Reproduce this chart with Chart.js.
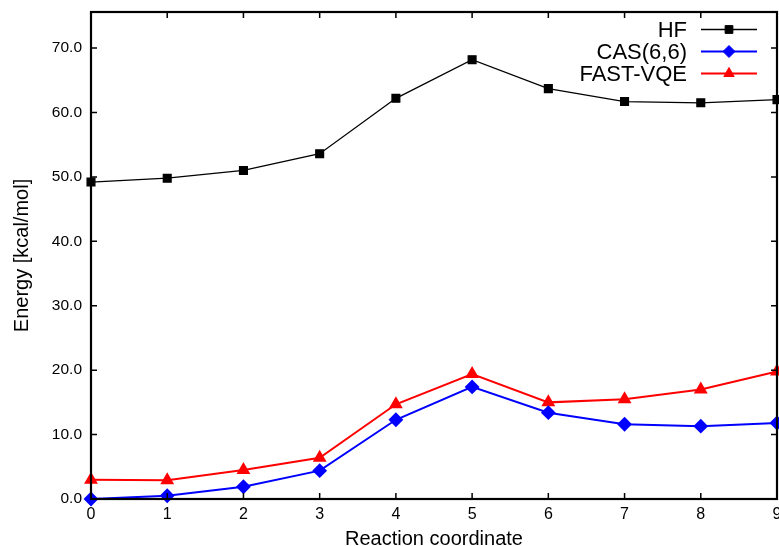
<!DOCTYPE html>
<html>
<head>
<meta charset="utf-8">
<script src="https://cdn.jsdelivr.net/npm/chart.js"></script>
<style>
  html, body { margin: 0; padding: 0; background: #fff; }
  #wrap { width: 779px; height: 546px; }
</style>
</head>
<body>
<div id="wrap"><canvas id="grafico"></canvas></div>
<script>
// Datos
const coordenadas = [0, 1, 2, 3, 4, 5, 6, 7, 8, 9];
const energiaHF = [49.2, 49.8, 51.0, 53.6, 62.2, 68.2, 63.7, 61.7, 61.5, 62.0];
const energiaCAS = [0.0, 0.5, 1.9, 4.4, 12.3, 17.4, 13.4, 11.6, 11.3, 11.8];
const energiaVQE = [3.0, 2.9, 4.5, 6.4, 14.7, 19.4, 15.0, 15.5, 17.0, 19.8];
const ticksY = [0, 10, 20, 30, 40, 50, 60, 70];
const ticksX = [0, 1, 2, 3, 4, 5, 6, 7, 8, 9];

const fuente = "'Liberation Sans', Arial, Helvetica, sans-serif";

function puntos(valores) {
  return coordenadas.map((x, i) => ({ x: x, y: valores[i] }));
}

// Marco completo con marcas hacia dentro (estilo gnuplot)
const marco = {
  id: "marco",
  afterDatasetsDraw(chart) {
    const { ctx, chartArea: a, scales } = chart;
    const largo = 6;
    ctx.save();
    ctx.strokeStyle = "#000";
    ctx.lineWidth = 1.5;
    ticksX.forEach((v) => {
      const px = scales.x.getPixelForValue(v);
      ctx.beginPath();
      ctx.moveTo(px, a.bottom);
      ctx.lineTo(px, a.bottom - largo);
      ctx.moveTo(px, a.top);
      ctx.lineTo(px, a.top + largo);
      ctx.stroke();
    });
    ticksY.forEach((v) => {
      const py = scales.y.getPixelForValue(v);
      ctx.beginPath();
      ctx.moveTo(a.left, py);
      ctx.lineTo(a.left + largo, py);
      ctx.moveTo(a.right, py);
      ctx.lineTo(a.right - largo, py);
      ctx.stroke();
    });
    ctx.lineWidth = 2.2;
    ctx.strokeRect(a.left, a.top, a.right - a.left, a.bottom - a.top);
    ctx.restore();
  },
};

// Leyenda: texto a la izquierda, muestra de línea a la derecha
const leyenda = {
  id: "leyenda",
  afterDraw(chart) {
    const { ctx } = chart;
    const xTexto = 687, x0 = 701, x1 = 757, y0 = 29.5, paso = 22;
    ctx.save();
    ctx.font = "22px " + fuente;
    ctx.textAlign = "right";
    ctx.textBaseline = "middle";
    chart.data.datasets.forEach((ds, i) => {
      const y = y0 + i * paso;
      ctx.fillStyle = "#000";
      ctx.fillText(ds.label, xTexto, y + 1);
      ctx.strokeStyle = ds.borderColor;
      ctx.lineWidth = ds.borderWidth;
      ctx.beginPath();
      ctx.moveTo(x0, y);
      ctx.lineTo(x1, y);
      ctx.stroke();
      ctx.fillStyle = ds.backgroundColor;
      ctx.strokeStyle = ds.borderColor;
      ctx.lineWidth = 1;
      Chart.helpers.drawPoint(ctx, {
        pointStyle: ds.pointStyle,
        radius: ds.pointRadius,
        borderWidth: 1,
        rotation: 0,
      }, (x0 + x1) / 2, y);
    });
    ctx.restore();
  },
};

function crearGrafico() {
  const ctx = document.getElementById("grafico").getContext("2d");
  new Chart(ctx, {
    type: "line",
    data: {
      datasets: [
        {
          label: "HF",
          data: puntos(energiaHF),
          borderColor: "#000000",
          backgroundColor: "#000000",
          borderWidth: 1.3,
          pointStyle: "rect",
          pointRadius: 5.5,
          clip: false,
        },
        {
          label: "CAS(6,6)",
          data: puntos(energiaCAS),
          borderColor: "#0000ff",
          backgroundColor: "#0000ff",
          borderWidth: 2,
          pointStyle: "rectRot",
          pointRadius: 6,
          clip: false,
        },
        {
          label: "FAST-VQE",
          data: puntos(energiaVQE),
          borderColor: "#ff0000",
          backgroundColor: "#ff0000",
          borderWidth: 2,
          pointStyle: "triangle",
          pointRadius: 6,
          clip: false,
        },
      ],
    },
    options: {
      responsive: true,
      maintainAspectRatio: false,
      animation: false,
      layout: { autoPadding: false, padding: { top: 12, right: 2, left: 0, bottom: 0 } },
      plugins: {
        legend: { display: false },
        tooltip: { enabled: false },
      },
      elements: { line: { tension: 0 }, point: { borderWidth: 1 } },
      scales: {
        x: {
          type: "linear",
          min: 0,
          max: 9,
          grid: { display: false, drawTicks: false },
          border: { display: false },
          afterBuildTicks: (s) => { s.ticks = ticksX.map((v) => ({ value: v })); },
          afterFit: (s) => { s.height = 47; s.paddingRight = 0; s.paddingLeft = 0; },
          ticks: {
            color: "#000",
            padding: 6,
            maxRotation: 0,
            autoSkip: false,
            font: { family: fuente, size: 16 },
            callback: (v) => String(v),
          },
          title: {
            display: true,
            text: "Reaction coordinate",
            color: "#000",
            font: { family: fuente, size: 20 },
            padding: { top: 0, bottom: -5 },
          },
        },
        y: {
          min: 0,
          max: 75.6,
          grid: { display: false, drawTicks: false },
          border: { display: false },
          afterBuildTicks: (s) => { s.ticks = ticksY.map((v) => ({ value: v })); },
          afterFit: (s) => { s.width = 91; s.paddingTop = 0; s.paddingBottom = 0; },
          ticks: {
            color: "#000",
            padding: 9,
            font: { family: fuente, size: 15.5 },
            callback: (v) => v.toFixed(1),
          },
          title: {
            display: true,
            text: "Energy [kcal/mol]",
            color: "#000",
            font: { family: fuente, size: 20 },
            padding: { top: 10, bottom: 0 },
          },
        },
      },
    },
    plugins: [marco, leyenda],
  });
}

document.addEventListener("DOMContentLoaded", crearGrafico);
</script>
</body>
</html>
